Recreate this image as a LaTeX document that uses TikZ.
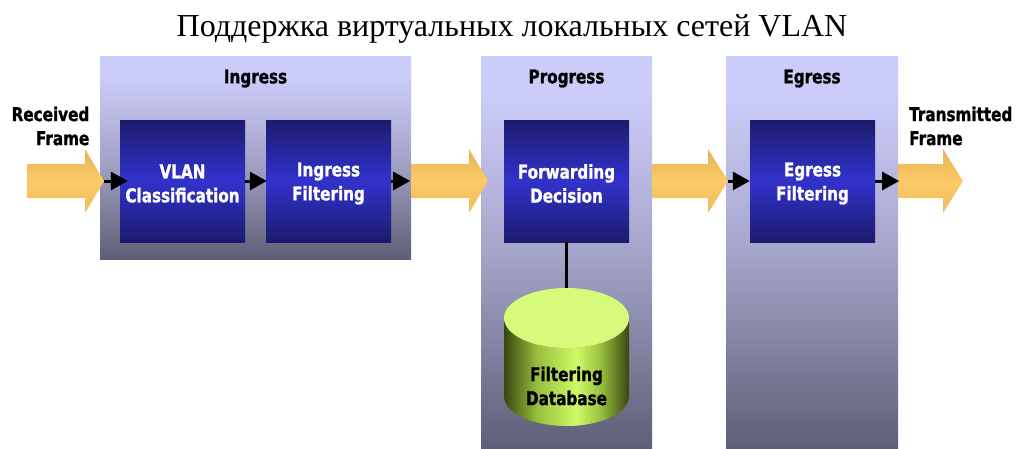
\documentclass[tikz,border=0pt]{standalone}
\usepackage{fontspec}
\setmainfont{Liberation Serif}
\newfontfamily\labfont[FakeStretch=0.8, BoldFeatures={FakeBold=1.2}]{DejaVu Sans}
\usetikzlibrary{calc,arrows.meta}

% palette
\definecolor{panTop}{RGB}{204,204,250}
\definecolor{panMid}{RGB}{165,165,202}
\definecolor{panBot}{RGB}{94,94,118}
\definecolor{boxDark}{RGB}{27,27,108}
\definecolor{boxLight}{RGB}{50,50,205}
\definecolor{arrTop}{RGB}{230,178,88}
\definecolor{arrMid}{RGB}{252,202,102}
\definecolor{arrBot}{RGB}{238,186,92}
\definecolor{cylTop}{RGB}{214,250,122}
\definecolor{cylDark}{RGB}{56,70,16}
\definecolor{cylMid}{RGB}{150,190,60}
\definecolor{cylLight}{RGB}{208,250,104}

% stage background: light at the top, darkening towards the bottom
\pgfdeclareverticalshading{panelshade}{100bp}{%
  color(0bp)=(panBot); color(25bp)=(panBot); color(50bp)=(panMid);
  color(70bp)=(panTop); color(75bp)=(panTop); color(100bp)=(panTop)}
% database body: dark rims, bright band right of centre
\pgfdeclarehorizontalshading{cylshade}{100bp}{%
  color(0bp)=(cylDark); color(25bp)=(cylDark); color(38bp)=(cylMid);
  color(54bp)=(cylLight); color(64bp)=(cylMid); color(75bp)=(cylDark);
  color(100bp)=(cylDark)}

\tikzset{
  lbl/.style={inner sep=0pt, font=\labfont\bfseries\fontsize{19}{24}\selectfont},
  panel/.style={shading=panelshade, inner sep=0pt, draw=none},
  procbox/.style={top color=boxDark, bottom color=boxDark, middle color=boxLight,
    minimum width=125pt, minimum height=122pt, inner sep=0pt},
  boxtext/.style={lbl, align=center, text=white},
  fatarrow/.style={top color=arrTop, bottom color=arrBot, middle color=arrMid, draw=none},
  blk/.style={draw=black, line width=3pt, -{Triangle[length=17pt,width=18pt]}}
}

% wide frame arrow: name, tail x, head base x, tip x
\newcommand\fatarrow[4]{%
  \path[fatarrow] (#2,164) -- (#3,164) -- (#3,149) -- (#4,181) -- (#3,213)
    -- (#3,198) -- (#2,198) -- cycle;
  \coordinate (#1) at (#4,181);}

\begin{document}
\begin{tikzpicture}[x=1pt,y=-1pt]
\useasboundingbox (0,0) rectangle (1016,448);

\node[inner sep=0pt, font=\fontsize{32}{36}\selectfont] (title) at (512,29)
  {Поддержка виртуальных локальных сетей VLAN};

% stages
\node[panel, minimum width=311pt, minimum height=203pt] (ing) at (255.5,157.5) {};
\node[panel, minimum width=171pt, minimum height=392pt] (prog) at (566.5,252) {};
\node[panel, minimum width=172pt, minimum height=392pt] (egr) at (812,252) {};

\node[lbl] (ingL) at (255.5,78.5) {Ingress};
\node[lbl] (progL) at (566.5,78.5) {Progress};
\node[lbl] (egrL) at (812,78.5) {Egress};

% frame flow
\fatarrow{a1}{27}{85}{104}
\fatarrow{a2}{411}{469}{488}
\fatarrow{a3}{652}{708}{728}
\fatarrow{a4}{898}{943}{963}

\node[lbl, align=right, anchor=east] (rx) at (89.5,126) {Received\\Frame};
\node[lbl, align=left, anchor=west] (tx) at (909,126) {Transmitted\\Frame};

% processing steps
\node[procbox] (vlan) at (182.5,181) {};
\node[procbox] (ifilt) at (328.5,181) {};
\node[procbox] (fwd) at (566.5,181) {};
\node[procbox] (efilt) at (812.5,181) {};
\node[boxtext] (vlanT) at ($(vlan)+(0,2.5)$) {VLAN\\Classification};
\node[boxtext] (ifiltT) at ($(ifilt)+(0,2.5)$) {Ingress\\Filtering};
\node[boxtext] (fwdT) at ($(fwd)+(0,2.5)$) {Forwarding\\Decision};
\node[boxtext] (efiltT) at ($(efilt)+(0,2.5)$) {Egress\\Filtering};

\draw[blk] (a1) -- ($(vlan.west)+(8,0)$);
\draw[blk] (vlan.east) -- ($(ifilt.west)+(1,0)$);
\draw[blk] (ifilt.east) -- ($(ing.east |- ifilt.east)+(-1,0)$);
\draw[blk] (a3) -- (efilt.west);
\draw[blk] (efilt.east) -- ($(egr.east |- efilt.east)+(1,0)$);

% filtering database
\coordinate (dbtop) at (566.5,288);
\draw[line width=3pt] (fwd.south) -- (dbtop);
\path[shading=cylshade] (504,318) -- (504,396)
  arc[start angle=180, end angle=0, x radius=62.5, y radius=30]
  -- (629,318) arc[start angle=0, end angle=180, x radius=62.5, y radius=30] -- cycle;
\fill[cylTop] (566.5,318) ellipse[x radius=62.5, y radius=30];
\node[lbl, align=center] (fdb) at (566.5,386) {Filtering\\Database};
\end{tikzpicture}
\end{document}
